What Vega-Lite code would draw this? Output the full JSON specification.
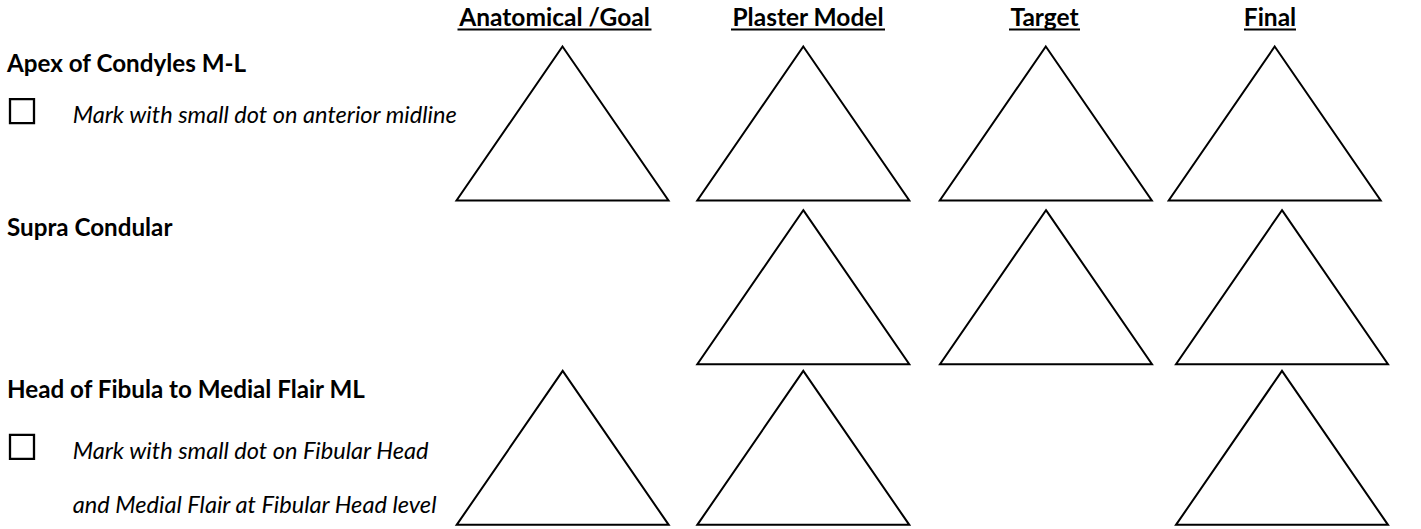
{
  "$schema": "https://vega.github.io/schema/vega-lite/v6.json",
  "width": 1421,
  "height": 529,
  "autosize": {"type": "fit", "contains": "padding"},
  "padding": 0,
  "background": "white",
  "config": {"view": {"stroke": null}},
  "datasets": {
    "triangles": [
      {"measure": "Apex of Condyles M-L", "stage": "Anatomical /Goal", "cx": 562.5, "cy": 123.7},
      {"measure": "Apex of Condyles M-L", "stage": "Plaster Model", "cx": 803.3, "cy": 123.7},
      {"measure": "Apex of Condyles M-L", "stage": "Target", "cx": 1045.8, "cy": 123.7},
      {"measure": "Apex of Condyles M-L", "stage": "Final", "cx": 1274.7, "cy": 123.7},
      {"measure": "Supra Condular", "stage": "Plaster Model", "cx": 803.3, "cy": 287.7},
      {"measure": "Supra Condular", "stage": "Target", "cx": 1046, "cy": 287.7},
      {"measure": "Supra Condular", "stage": "Final", "cx": 1282, "cy": 287.7},
      {"measure": "Head of Fibula to Medial Flair ML", "stage": "Anatomical /Goal", "cx": 562.7, "cy": 448.7},
      {"measure": "Head of Fibula to Medial Flair ML", "stage": "Plaster Model", "cx": 803.3, "cy": 448.7},
      {"measure": "Head of Fibula to Medial Flair ML", "stage": "Final", "cx": 1282, "cy": 448.7}
    ],
    "headers": [
      {"label": "Anatomical /Goal", "cx": 554.5, "x1": 457.5, "x2": 651.5},
      {"label": "Plaster Model", "cx": 808, "x1": 731, "x2": 885},
      {"label": "Target", "cx": 1044.5, "x1": 1009, "x2": 1080},
      {"label": "Final", "cx": 1270, "x1": 1244, "x2": 1296}
    ],
    "labels": [
      {"label": "Apex of Condyles M-L", "x": 7, "y": 72},
      {"label": "Supra Condular", "x": 7, "y": 236},
      {"label": "Head of Fibula to Medial Flair ML", "x": 7, "y": 399}
    ],
    "notes": [
      {"label": "Mark with small dot on anterior midline", "x": 72.7, "y": 123.3},
      {"label": "Mark with small dot on Fibular Head", "x": 72.7, "y": 460},
      {"label": "and Medial Flair at Fibular Head level", "x": 72.7, "y": 514}
    ],
    "boxes": [
      {"item": "Apex of Condyles M-L", "x": 22, "y": 111.3},
      {"item": "Head of Fibula to Medial Flair ML", "x": 22, "y": 447.7}
    ]
  },
  "layer": [
    {
      "data": {"name": "triangles"},
      "mark": {"type": "point", "shape": "M0,-0.7264L1,0.7264L-1,0.7264Z", "size": 44944, "filled": false, "stroke": "black", "strokeWidth": 2, "opacity": 1, "strokeJoin": "miter"},
      "encoding": {
        "x": {"field": "cx", "type": "quantitative", "scale": {"domain": [0, 1421], "nice": false, "zero": false}, "axis": null},
        "y": {"field": "cy", "type": "quantitative", "scale": {"domain": [0, 529], "reverse": true, "nice": false, "zero": false}, "axis": null}
      }
    },
    {
      "data": {"name": "boxes"},
      "mark": {"type": "point", "shape": "square", "size": 576, "filled": false, "stroke": "black", "strokeWidth": 2.3, "opacity": 1},
      "encoding": {
        "x": {"field": "x", "type": "quantitative"},
        "y": {"field": "y", "type": "quantitative"}
      }
    },
    {
      "data": {"name": "headers"},
      "mark": {"type": "text", "font": "Lato", "fontWeight": "bold", "fontSize": 24.5, "align": "center", "baseline": "alphabetic", "color": "black"},
      "encoding": {
        "x": {"field": "cx", "type": "quantitative"},
        "y": {"datum": 26, "type": "quantitative"},
        "text": {"field": "label"}
      }
    },
    {
      "data": {"name": "headers"},
      "mark": {"type": "rule", "stroke": "black", "strokeWidth": 2},
      "encoding": {
        "x": {"field": "x1", "type": "quantitative"},
        "x2": {"field": "x2"},
        "y": {"datum": 29.5, "type": "quantitative"}
      }
    },
    {
      "data": {"name": "labels"},
      "mark": {"type": "text", "font": "Lato", "fontWeight": "bold", "fontSize": 24.2, "align": "left", "baseline": "alphabetic", "color": "black"},
      "encoding": {
        "x": {"field": "x", "type": "quantitative"},
        "y": {"field": "y", "type": "quantitative"},
        "text": {"field": "label"}
      }
    },
    {
      "data": {"name": "notes"},
      "mark": {"type": "text", "font": "Lato", "fontStyle": "italic", "fontSize": 23.6, "align": "left", "baseline": "alphabetic", "color": "black"},
      "encoding": {
        "x": {"field": "x", "type": "quantitative"},
        "y": {"field": "y", "type": "quantitative"},
        "text": {"field": "label"}
      }
    }
  ]
}
